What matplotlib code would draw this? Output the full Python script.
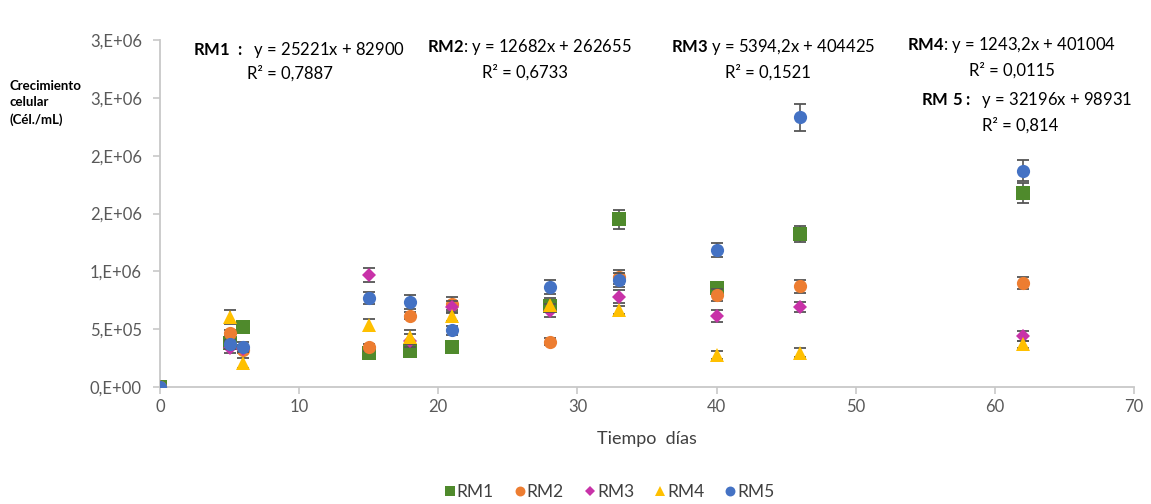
import numpy as np
import matplotlib
matplotlib.use("Agg")
import matplotlib.pyplot as plt
from matplotlib.ticker import FixedLocator, FixedFormatter

plt.rcParams['font.family'] = ['Lato', 'DejaVu Sans']
plt.rcParams['mathtext.fontset'] = 'custom'
plt.rcParams['mathtext.rm'] = 'Lato'
plt.rcParams['mathtext.bf'] = 'Lato:bold'

# days of sampling
dias = [0, 5, 6, 15, 18, 21, 28, 33, 40, 46, 62]

# cell growth (cel/mL) per series
rm1 = [0, 380000, 520000, 290000, 310000, 350000, 700000, 1450000, 855000, 1320000, 1680000]
rm2 = [0, 467000, 320000, 345000, 615000, 720000, 390000, 950000, 795000, 870000, 900000]
rm3 = [0, 340000, 330000, 970000, 400000, 690000, 660000, 780000, 615000, 690000, 440000]
rm4 = [0, 605000, 210000, 535000, 430000, 610000, 710000, 665000, 280000, 295000, 370000]
rm5 = [0, 370000, 345000, 770000, 735000, 490000, 865000, 925000, 1185000, 2330000, 1870000]

# error bars (standard deviation)
err1 = [0, 30000, 30000, 30000, 30000, 30000, 55000, 80000, 40000, 68000, 88000]
err2 = [0, 30000, 30000, 30000, 30000, 58000, 30000, 60000, 55000, 56000, 55000]
err3 = [0, 45000, 30000, 60000, 55000, 50000, 55000, 55000, 50000, 45000, 40000]
err4 = [0, 60000, 45000, 55000, 60000, 40000, 58000, 35000, 35000, 38000, 30000]
err5 = [0, 40000, 40000, 55000, 58000, 40000, 58000, 62000, 60000, 115000, 93000]

nombres = ['RM1', 'RM2', 'RM3', 'RM4', 'RM5']
colores = ['#4F8A2C', '#ED7D31', '#C832A8', '#FFC000', '#4472C4']
marcadores = ['s', 'o', 'D', '^', 'o']
tamanos = [9.5, 9.5, 7, 9.5, 9.5]

ytick_vals = [0, 500000, 1000000, 1500000, 2000000, 2500000, 3000000]
ytick_txt = ['0,E+00', '5,E+05', '1,E+06', '2,E+06', '2,E+06', '3,E+06', '3,E+06']
xtick_vals = [0, 10, 20, 30, 40, 50, 60, 70]

# regression labels: (bold part, normal part, r2)
ecuaciones = [
    (r'RM1\ :', '  y = 25221x + 82900', 'R² = 0,7887'),
    (r'RM2', ': y = 12682x + 262655', 'R² = 0,6733'),
    (r'RM3', ' y = 5394,2x + 404425', 'R² = 0,1521'),
    (r'RM4', ': y = 1243,2x + 401004', 'R² = 0,0115'),
    (r'RM\ 5:', '  y = 32196x + 98931', 'R² = 0,814'),
]

W, H = 1151, 504
fig = plt.figure(figsize=(W / 100, H / 100), dpi=100)
ax = fig.add_axes([160 / W, 1 - 387 / H, (1134 - 160) / W, (387 - 40) / H])

series = [rm1, rm2, rm3, rm4, rm5]
errores = [err1, err2, err3, err4, err5]
for i, (s, e, n, c, m, ms) in enumerate(zip(series, errores, nombres, colores, marcadores, tamanos)):
    # error bars go behind the markers, like Excel
    ax.errorbar(dias, s, yerr=e, fmt='none', ecolor='#555555', elinewidth=1.2,
                capsize=4.5, capthick=1.3, zorder=3 + i * 0.1)
    ax.plot(dias, s, linestyle='none', marker=m, color=c, markersize=ms,
            markeredgewidth=0, label=n, zorder=3.05 + i * 0.1)

ax.set_xlim(0, 70)
ax.set_ylim(0, 3000000)
ax.xaxis.set_major_locator(FixedLocator(xtick_vals))
ax.yaxis.set_major_locator(FixedLocator(ytick_vals))
ax.yaxis.set_major_formatter(FixedFormatter(ytick_txt))

for sp in ['top', 'right']:
    ax.spines[sp].set_visible(False)
for sp in ['left', 'bottom']:
    ax.spines[sp].set_color('#c8c8c8')
    ax.spines[sp].set_linewidth(1.3)
ax.tick_params(axis='both', colors='#c8c8c8', labelcolor='#595959', labelsize=12,
               length=5, width=1.2, direction='out')
ax.tick_params(axis='y', pad=8)
ax.set_xlabel('Tiempo  días', fontsize=13, color='#404040', labelpad=12)

fig.text(10 / W, 1 - 80 / H, 'Crecimiento\ncelular\n(Cél./mL)', fontsize=9.5,
         fontweight='bold', va='top', ha='left', linespacing=1.45)

pos = [(193, 50, 290, 73), (427, 47, 525, 72), (671, 47, 768, 72),
       (907, 45, 1012, 70), (921, 100, 1020, 125)]
for (b, t, r2), (x1, y1, x2, y2) in zip(ecuaciones, pos):
    fig.text(x1 / W, 1 - y1 / H, r'$\bf{' + b + '}$' + t, fontsize=12,
             va='center', ha='left', color='black')
    fig.text(x2 / W, 1 - y2 / H, r2, fontsize=12, va='center', ha='center')

leg = fig.legend(loc='center', bbox_to_anchor=(607 / W, 1 - 492 / H), ncol=5,
                 frameon=False, fontsize=12.5, handletextpad=-0.2, columnspacing=0.9,
                 markerscale=0.75, handlelength=1.2)
for t in leg.get_texts():
    t.set_color('#404040')

fig.savefig('out.png', dpi=100)
